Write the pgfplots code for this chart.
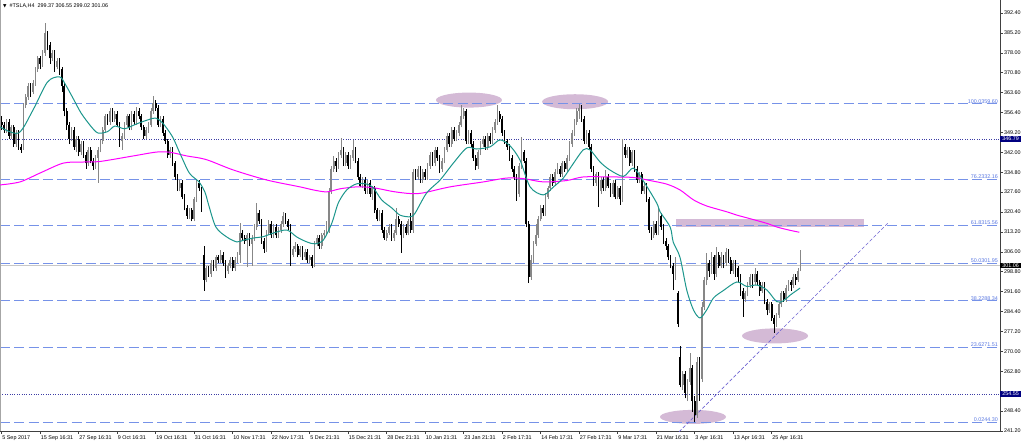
\documentclass[border=0pt]{standalone}
\usepackage{pgfplots}
\pgfplotsset{compat=1.18}
\usepackage{pgfplotstable}
\usepackage{fontspec}
\setmainfont{Liberation Sans}
\newfontfamily\dejavu{DejaVu Sans}
\newcommand\fs{\fontsize{5.4}{6}\selectfont}

\definecolor{fibblue}{RGB}{118,146,232}
\definecolor{fibtext}{RGB}{90,120,225}
\definecolor{navyline}{RGB}{60,60,165}
\definecolor{maTeal}{RGB}{28,150,140}
\definecolor{maPink}{RGB}{255,0,255}
\definecolor{blob}{RGB}{212,186,214}
\definecolor{bullgray}{RGB}{135,135,135}
\definecolor{trend}{RGB}{110,100,210}
\definecolor{navybox}{RGB}{0,0,128}

% H4 candles: bar index, open, high, low, close
\pgfplotstableread{
i o h l c
0 353 355 350 352
1 352 353 349 350
2 350 354 349 353
3 353 354 347 348
4 348 352 347 351
5 351 352 344 345
6 345 350 344 349
7 349 350 343 344
8 344 345 341.8 343
9 344 360 343 359
10 359 363 358 362
11 362 367 361 366
12 366 367 362 364
13 364 368 363 367
14 367 373 366 372
15 372 377 371 376
16 376 377 372 374
17 374 379 373 378
18 378 388.8 377 385
19 385 386 379 381
20 381 382 374 376
21 376 379 375 378
22 378 379 371 373
23 373 376 372 375
24 375 376 370 372
25 372 373 364 366
26 366 367 355 357
27 357 358 350 352
28 352 353 345 347
29 347 351 346 350
30 350 351 343 344
31 344 348 342 347
32 347 348 340.5 342
33 342 346 341 345
34 345 346 340 341
35 341 342 336 338
36 338 344 337 343
37 343 344 338 339
38 339 340 335.6 337
39 337 341 336 340
40 340 344 331 343
41 343 347 342 346
42 346 351 345 350
43 350 356 349 355
44 355 356 352 353
45 353 358 352 357
46 357 358 353 354
47 354 357 353 356
48 356 357 351 352
49 352 353 344 346
50 346 349 343 348
51 348 353 347 352
52 352 356 351 355
53 355 356 350 351
54 351 357 350 356
55 356 357 352 353
56 353 358.4 352 357
57 357 358 354 355
58 355 356 350 351
59 351 352 347 348
60 348 351 347 350
61 350 353 349 352
62 352 358 351 357
63 357 362.5 356 360
64 360 361 357 358
65 358 359 351 352
66 352 355 351 354
67 354 355 348 349
68 349 350 345 346
69 346 347 340 341
70 341 344 340 343
71 343 344 337 338
72 338 339 332 333
73 333 334 328 329
74 329 332 328 331
75 331 332 325 326
76 326 327 321 322
77 322 323 318 319
78 319 322 318 321
79 321 322 317 318
80 318 326 317 325
81 325 332 324 331
82 331 332 328 329
83 329 329.5 320.5 321
84 305 308 292 296
85 296 301 295 300
86 300 301 297 298
87 298 303 297 302
88 302 303 299 300
89 300 305 299 304
90 304 305 302 303
91 303 306.7 302 305
92 305 306 301 302
93 302 303 296.5 299
94 299 302 298 301
95 301 304 300 303
96 303 304 299 300
97 300 304 299 303
98 303 306 302 305
99 305 316.4 302 313
100 313 314 310 311
101 311 312 309 310
102 310 313 300.5 312
103 312 313 308 309
104 309 312 301 311
105 311 316 310 315
106 315 323.7 314 320
107 320 321 316 317
108 317 318 309 310
109 310 311 305.6 307
110 307 314 306 313
111 313 317.5 312 316
112 316 317 311 312
113 312 316 311 315
114 315 316 311 312
115 312 315 311 314
116 314 317 313 316
117 316 320.5 315 319
118 319 320 316 317
119 317 318 314 315
120 315 316 301 305
121 305 308 304 307
122 307 309.6 306 308
123 308 309 304 305
124 305 308 304 307
125 307 308 303 304
126 304 307 303 306
127 306 307 302 303
128 303 305 302 304
129 304 305 300 301
130 301 310 300.5 309
131 309 312 308 311
132 311 312 307 308
133 308 313 307 312
134 312 314 311 313
135 313 317 312 314
136 314 329 313 328
137 328 337 327 336
138 336 340.5 335 339
139 339 340 335 337
140 337 342 336 341
141 341 347.2 340 343
142 343 344 337 338
143 338 342 337 341
144 341 342 336 337
145 337 341 336 340
146 340 346.5 339 343
147 343 344 338 339
148 339 340 332 333
149 333 334 329.5 330
150 330 333 329 332
151 332 333 327 328
152 328 332 327 331
153 331 332 326 327
154 327 330 324.8 329
155 329 330 320 321
156 321 322 317 318
157 318 321 317 320
158 320 321 313 314
159 314 315 310.3 311
160 311 314 310 313
161 313 316 312 315
162 315 316 310 311
163 311 314 310 313
164 313 322 312 318
165 318 319 315 316
166 316 317 305.6 312
167 312 316 311 315
168 315 316 312 313
169 313 318 312 317
170 317 320 313 314
171 314 336 313 335
172 335 336 332 333
173 333 337 332 336
174 336 337 331 332
175 332 336 331 335
176 335 336 332 333
177 333 338 332 337
178 337 342 336 341
179 341 342 337 338
180 338 344 337 343
181 343 344 339 340
182 340 341 334.5 336
183 336 340 335 339
184 339 344 338 343
185 343 349 342 348
186 348 349 344 345
187 345 351 344 350
188 350 351 346 347
189 347 350 346 349
190 349 353 348 352
191 352 359.1 351 355
192 355 358 354 357
193 357 357.5 345 346
194 346 350 345 349
195 349 350 344 345
196 345 346 339 340
197 340 341 335.6 337
198 337 343 336 342
199 342 346 341 345
200 345 348 344 347
201 347 348 343 344
202 344 349 343 348
203 348 349 345 346
204 346 351 345 350
205 350 354 349 353
206 353 359 352 356
207 356 357 353 354
208 354 355 348 349
209 349 350 345 346
210 346 347 343 344
211 344 345 339 340
212 340 341 335 336
213 336 337 332 333
214 333 334 324.5 327
215 327 338 326 337
216 337 347.6 336 342
217 342 343 338 339
218 339 340 315 316
219 316 317 294.7 297
220 297 305 296 303
221 303 310 302 309
222 309 316 308 312
223 312 319 311 318
224 318 323 317 322
225 322 323 319 320
226 320 327.3 319 326
227 326 330 325 329
228 329 334 328 333
229 333 334 330 331
230 331 336 330 335
231 335 338 334 336
232 336 337 333 334
233 334 339 333 338
234 338 339 335 336
235 336 341 335 340
236 340 346 339 345
237 345 350 344 349
238 349 354 348 353
239 353 358 352 357
240 357 359.6 354 358
241 358 359 353 354
242 354 355 345 346
243 346 350 345 349
244 349 350 343 344
245 344 345 335 336
246 336 337 330 331
247 331 335 330 334
248 334 335 322.2 328
249 328 333 327 332
250 332 333 328 329
251 329 335.6 328 333
252 333 334 329 330
253 330 331 326 327
254 327 332 326 331
255 331 332 325 326
256 326 330 325 329
257 329 330 323 325
258 325 346.8 324 344
259 344 345 340 341
260 341 344 340 343
261 343 344 337 338
262 338 343 337 342
263 342 343 335 336
264 336 337 331 332
265 332 335 331 334
266 334 335 327 328
267 328 331 327 330
268 330 331 324 325
269 325 326 313 314
270 314 315 310.3 312
271 312 317 311 316
272 316 317 312 313
273 313 321.9 312 319
274 319 320 314 315
275 315 316 309 310
276 310 311 306.7 308
277 308 309 303 304
278 304 305 300 301
279 301 302 292.2 298
280 298 304 296 300
281 291 292 278.8 280
282 268 272 257 258
283 258 263 256 262
284 262 263 253 255
285 255 260 252 259
286 259 269.4 258 264
287 264 265 248.1 252
288 252 254 244.3 247
289 247 268 246 266
290 266 268 252 260
291 260 288 259 286
292 286 297 285 296
293 296 305.6 294 302
294 302 303 297 299
295 299 306 298 304
296 304 305 296 298
297 298 307.8 297 305
298 305 306 300 301
299 301 306 300 304
300 304 305 300 302
301 302 307.5 301 306
302 306 307 302 303
303 303 304 298 299
304 299 303 298 302
305 302 303 297 300
306 300 301 295 297
307 297 298 290 292
308 292 293 282.5 289
309 289 292 288 291
310 291 295 290 294
311 294 298 293 297
312 297 298 293 295
313 295 300 294 298
314 298 299 294 295
315 295 296 290 292
316 292 295 291 294
317 294 295 287 288
318 288 289 283 285
319 285 288 284 287
320 287 288 281 282
321 282 283 276.7 280
322 280 284 279 283
323 283 288 282 287
324 287 292 286 291
325 291 292 288 289
326 289 294 288 293
327 293 296 292 295
328 295 296 292 294
329 294 298 293 297
330 297 298 294 296
331 296 300 295 299
332 299.37 306.55 299.02 301.06
}\candles

\pgfplotsset{candle/.style={draw=none, no markers, forget plot,
  error bars/y dir=plus, error bars/y explicit, error bars/error mark=none}}

\begin{document}
\begin{tikzpicture}
\useasboundingbox (0pt,-14pt) rectangle (1024pt,431pt);
\begin{axis}[
  at={(0pt,0pt)}, anchor=south west,
  scale only axis, width=1000pt, height=431pt,
  xmin=-0.707, xmax=414.9, ymin=241.2, ymax=397.1,
  axis x line*=bottom, axis y line*=right,
  axis line style={-, black!75, line width=0.8pt},
  tick align=outside, major tick length=3pt,
  tick style={black!75, line width=0.6pt},
  xtick={0,16,...,320},
  xticklabels={5 Sep 2017, 15 Sep 16:31, 27 Sep 16:31, 9 Oct 16:31, 19 Oct 16:31, 31 Oct 16:31, 10 Nov 17:31, 22 Nov 17:31, 5 Dec 21:31, 15 Dec 21:31, 28 Dec 21:31, 10 Jan 21:31, 23 Jan 21:31, 2 Feb 17:31, 14 Feb 17:31, 27 Feb 17:31, 9 Mar 17:31, 21 Mar 16:31, 3 Apr 16:31, 13 Apr 16:31, 25 Apr 16:31},
  xticklabel style={anchor=north west, font=\fs, inner sep=0pt, xshift=0.5pt, yshift=-1.5pt},
  ytick={241.2,248.4,255.6,262.8,270,277.2,284.4,291.6,298.8,306,313.2,320.4,327.6,334.8,342,349.2,356.4,363.6,370.8,378,385.2,392.4},
  yticklabels={241.20,248.40,,262.80,270.00,277.20,284.40,291.60,298.80,306.00,313.20,320.40,327.60,334.80,342.00,349.20,356.40,363.60,370.80,378.00,385.20,392.40},
  yticklabel style={anchor=west, font=\fs, inner sep=0pt, xshift=1pt},
]

% marked zones
\fill[blob] (axis cs:194.2,360.9) ellipse [x radius=33pt, y radius=7.5pt];
\fill[blob] (axis cs:238.3,360.3) ellipse [x radius=33pt, y radius=7.5pt];
\fill[blob] (axis cs:321.4,275.6) ellipse [x radius=33pt, y radius=7.5pt];
\fill[blob] (axis cs:287.3,246.3) ellipse [x radius=33pt, y radius=7pt];
\fill[blob] (axis cs:280.3,314.9) rectangle (axis cs:358.4,317.9);

% fibonacci levels
\foreach \lv/\tx in {359.6/100.0359.60, 332.16/76.2332.16, 315.56/61.8315.56, 301.95/50.0301.95, 288.34/38.2288.34, 271.51/23.6271.51, 244.3/0.0244.30} {
  \edef\temp{\noexpand\draw[fibblue, line width=0.7pt, dash pattern=on 10pt off 4.3pt] (axis cs:-0.7,\lv) -- (axis cs:414.3,\lv);
    \noexpand\node[anchor=south east, inner sep=0.4pt, text=fibtext, font=\noexpand\fs] at (axis cs:414.3,\lv) {\tx};}
  \temp
}
\draw[navyline, line width=0.6pt, dash pattern=on 0.8pt off 1.6pt] (axis cs:-0.7,346.79) -- (axis cs:414.9,346.79);
\draw[navyline, line width=0.6pt, dash pattern=on 0.8pt off 1.6pt] (axis cs:-0.7,254.55) -- (axis cs:414.9,254.55);
\draw[black!22, line width=0.8pt] (axis cs:-0.7,301.06) -- (axis cs:414.9,301.06);
\draw[black!35, line width=0.8pt] (rel axis cs:0.0005,0) -- (rel axis cs:0.0005,1);

% trend line
\draw[trend, line width=0.6pt, dash pattern=on 3.5pt off 2pt] (axis cs:281.5,240.9) -- (axis cs:368.4,316.5);

% wicks
\addplot[candle, restrict expr to domain={\thisrow{c}-\thisrow{o}}{0:1000},
  error bars/error bar style={draw=bullgray, line width=0.6pt}]
  table[x=i, y=l, y error plus expr=\thisrow{h}-\thisrow{l}] {\candles};
\addplot[candle, restrict expr to domain={\thisrow{c}-\thisrow{o}}{-1000:-0.001},
  error bars/error bar style={draw=black, line width=0.6pt}]
  table[x=i, y=l, y error plus expr=\thisrow{h}-\thisrow{l}] {\candles};
% bodies
\addplot[candle, restrict expr to domain={\thisrow{c}-\thisrow{o}}{0:1000},
  error bars/error bar style={draw=bullgray, line width=1.7pt}]
  table[x=i, y=o, y error plus expr={max(\thisrow{c}-\thisrow{o},0.3)}] {\candles};
\addplot[candle, restrict expr to domain={\thisrow{c}-\thisrow{o}}{-1000:-0.001},
  error bars/error bar style={draw=black, line width=1.7pt}]
  table[x=i, y=c, y error plus expr={\thisrow{o}-\thisrow{c}}] {\candles};

% moving averages
\addplot[maPink, line width=1pt, smooth, tension=0.5] coordinates {
(-0.7,330.2) (7.6,331.3) (15.9,334.5) (25.6,338.1) (33.9,338.5) (40.9,338.7) (54.7,340.7) (64.4,342.1) (70,342) (76.9,340.7) (82.5,339.9) (86.6,338.9) (96.3,335.6) (110.1,332) (124,329.5) (129.5,328.4) (135.1,327.7) (140.6,328.8) (147.5,329.5) (154.4,329.2) (162.8,327.8) (169.7,327.1) (175,327.3) (186.3,329.5) (200.2,331.3) (209.9,332.7) (216.8,332.5) (225.1,331.3) (234.8,331.8) (241.7,333.1) (252.8,333.1) (262.5,332.9) (269.4,331.8) (276.4,330.5) (281.9,328.4) (287.5,324.8) (293,322.6) (301.3,320.5) (305.5,319.3) (311,318) (318,316.3) (322.1,315) (327.6,313.8) (331.5,313.1)
};
\addplot[maTeal, line width=1pt, smooth, tension=0.5] coordinates {
(-0.7,351.2) (7,349) (13,357.3) (19,367.4) (24,369.3) (26.5,366.5) (30,361) (33,356.2) (37,351.5) (40,349) (44,349.5) (47,351.5) (51,350.5) (54,351.5) (57,352.6) (61,353.8) (64,354.4) (67,352.5) (71,347.6) (74,341.8) (78,334.5) (82,331.3) (84.5,327.5) (86,323) (89,315) (93.5,311.4) (97.7,309.6) (100.4,310.2) (104.6,311) (108.7,311.5) (112.9,312.8) (118.5,313.9) (122.6,311.4) (126.8,309.6) (130.2,308.9) (133.7,310.3) (137.2,316.4) (139.9,323.7) (143.4,328.4) (147.5,330.6) (151.7,330.5) (154.4,329.2) (157.9,324.8) (162.1,321.9) (165.5,319.3) (169.7,318.7) (171.8,320) (176.6,327.3) (182.2,332) (187.7,338.1) (193.3,343.6) (197.4,343.2) (203,344) (207.1,346.5) (211.3,344.3) (215.4,339.2) (219.6,329.5) (225.1,326.6) (229.3,329.5) (233.4,332.7) (237.6,338) (241.7,342.9) (244.5,342.9) (248.7,338.5) (252.8,335.6) (258.4,333.3) (262.5,336.3) (266.7,331.6) (272.2,323.7) (273.6,320.5) (277.8,315) (279.1,309.5) (281.9,304) (284.7,292.2) (287.5,285) (290.2,282.1) (293,285) (295.8,289.3) (299.9,292) (305.5,295.1) (309.6,293.5) (313.8,294) (318,292.2) (322.1,288) (324.9,288.3) (327.6,290.3) (331.8,292.9)
};

\coordinate (p1) at (axis cs:414.9,346.79);
\coordinate (p2) at (axis cs:414.9,301.06);
\coordinate (p3) at (axis cs:414.9,254.55);
\coordinate (tl) at (rel axis cs:0,1);
\end{axis}
\node[anchor=west, fill=navybox, text=white, font=\fs, inner xsep=1pt, inner ysep=1pt, minimum width=21pt] at (p1) {346.79};
\node[anchor=west, fill=black, text=white, font=\fs, inner xsep=1pt, inner ysep=1pt, minimum width=21pt] at (p2) {301.06};
\node[anchor=west, fill=navybox, text=white, font=\fs, inner xsep=1pt, inner ysep=1pt, minimum width=21pt] at (p3) {254.55};
\node[anchor=north west, font=\fs, inner sep=0pt] at ([xshift=3pt, yshift=-4pt]tl) {{\dejavu\fontsize{4.5}{5}\selectfont ▼}\ \ \#TSLA,H4\ \ 299.37 306.55 299.02 301.06};
\end{tikzpicture}
\end{document}
